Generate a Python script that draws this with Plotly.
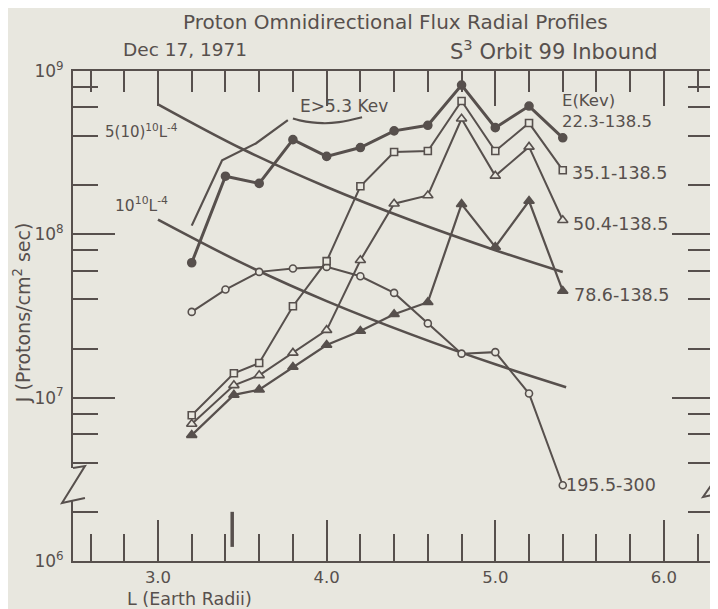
import plotly.graph_objects as go

# ---------------- data ----------------
L_a = [3.2, 3.4, 3.6, 3.8, 4.0, 4.2, 4.4, 4.6, 4.8, 5.0, 5.2, 5.4]
L_b = [3.2, 3.45, 3.6, 3.8, 4.0, 4.2, 4.4, 4.6, 4.8, 5.0, 5.2, 5.4]

J_22 = [6.7e7, 2.27e8, 2.05e8, 3.8e8, 3.0e8, 3.4e8, 4.3e8, 4.65e8, 8.2e8, 4.5e8, 6.1e8, 3.9e8]
J_35 = [7.8e6, 1.41e7, 1.63e7, 3.63e7, 6.85e7, 1.97e8, 3.19e8, 3.24e8, 6.55e8, 3.24e8, 4.8e8, 2.47e8]
J_50 = [6.9e6, 1.19e7, 1.37e7, 1.88e7, 2.59e7, 6.94e7, 1.54e8, 1.73e8, 5.1e8, 2.28e8, 3.43e8, 1.22e8]
J_78 = [5.9e6, 1.04e7, 1.12e7, 1.54e7, 2.1e7, 2.56e7, 3.24e7, 3.84e7, 1.53e8, 8.37e7, 1.6e8, 4.5e7]
J_195 = [3.35e7, 4.59e7, 5.89e7, 6.18e7, 6.32e7, 5.54e7, 4.38e7, 2.85e7, 1.86e7, 1.90e7, 1.06e7, 2.91e6]

# E > 5.3 keV profile and its label brace
L_e53 = [3.2, 3.38, 3.58, 3.77]
J_e53 = [1.13e8, 2.84e8, 3.6e8, 5.0e8]
L_brace = [3.80, 3.84, 3.975, 4.074, 4.21]
J_brace = [5.12e8, 4.99e8, 4.79e8, 4.86e8, 5.21e8]

# reference curves 5(10)^10 L^-4 and 10^10 L^-4
L_ref5 = [3.0, 3.5, 4.0, 4.5, 5.0, 5.4]
J_ref5 = [6.25e8, 3.33e8, 1.95e8, 1.22e8, 8.0e7, 5.88e7]
L_ref1 = [3.0, 3.5, 4.0, 4.5, 5.0, 5.42]
J_ref1 = [1.23e8, 6.66e7, 3.9e7, 2.44e7, 1.6e7, 1.16e7]

# short thick marker near the bottom axis
L_bar = [3.44, 3.44]
J_bar = [2.0e6, 1.22e6]

x_major = [3, 4, 5, 6]
x_major_text = ["3.0", "4.0", "5.0", "6.0"]
x_minor = [2.6, 2.8, 3.2, 3.4, 3.6, 3.8, 4.2, 4.4, 4.6, 4.8, 5.2, 5.4, 5.6, 5.8, 6.2]
y_major = [1e6, 1e7, 1e8, 1e9]
y_major_text = ["10<sup>6</sup>", "10<sup>7</sup>", "10<sup>8</sup>", "10<sup>9</sup>"]
y_minor = [m * 10 ** e for e in (6, 7, 8) for m in (2, 4, 6, 8)]

series_labels = ["22.3-138.5", "35.1-138.5", "50.4-138.5", "78.6-138.5", "195.5-300"]

# ---------------- style ----------------
INK = "#57504d"
BG = "#e8e7df"
FONT = "DejaVu Sans"
OFF = 8                      # page body margin of the html page
W, H = 718 - OFF, 609 - OFF
ML, MR, MT, MB = 65, 5, 63, 48
PW, PH = W - ML - MR, H - MT - MB

def px(x):                    # page pixel -> paper fraction
    return (x - OFF - ML) / PW

def py(y):
    return (H - MB - (y - OFF)) / PH

fig = go.Figure()

# reference curves
for Lr, Jr in ((L_ref5, J_ref5), (L_ref1, J_ref1)):
    fig.add_trace(go.Scatter(x=Lr, y=Jr, mode="lines", line=dict(color=INK, width=2.6, shape="spline"),
                             hoverinfo="skip", showlegend=False))

# E>5.3 keV line and brace
fig.add_trace(go.Scatter(x=L_e53, y=J_e53, mode="lines", line=dict(color=INK, width=2.2),
                         showlegend=False))
fig.add_trace(go.Scatter(x=L_brace, y=J_brace, mode="lines", line=dict(color=INK, width=2.2, shape="spline"),
                         showlegend=False))

def series(x, y, symbol, size, filled, width, name):
    fig.add_trace(go.Scatter(
        x=x, y=y, mode="lines+markers", name=name, showlegend=False,
        line=dict(color=INK, width=width),
        marker=dict(symbol=symbol, size=size, color=INK if filled else BG,
                    line=dict(color=INK, width=1.6))))

series(L_a, J_195, "circle", 7, False, 2.0, series_labels[4])
series(L_b, J_78, "triangle-up", 9, True, 2.2, series_labels[3])
series(L_b, J_50, "triangle-up", 9, False, 2.0, series_labels[2])
series(L_b, J_35, "square", 7, False, 2.0, series_labels[1])
series(L_a, J_22, "circle", 8, True, 3.0, series_labels[0])

# thick marker (on the mirrored axes so they are drawn)
fig.add_trace(go.Scatter(x=L_bar, y=J_bar, mode="lines", line=dict(color=INK, width=3.5),
                         xaxis="x2", yaxis="y2", showlegend=False, hoverinfo="skip"))

xr = [2.496, 6.279]
tick_common = dict(ticks="inside", tickcolor=INK, tickwidth=1.5, showgrid=False, zeroline=False)

fig.update_layout(
    width=W, height=H,
    margin=dict(l=ML, r=MR, t=MT, b=MB),
    paper_bgcolor=BG, plot_bgcolor=BG,
    font=dict(family=FONT, color=INK, size=17),
    xaxis=dict(range=xr, showline=True, linecolor=INK, linewidth=2, mirror=True,
               ticklen=41, tickvals=x_major, ticktext=x_major_text,
               tickfont=dict(size=16.5), ticklabelstandoff=0,
               minor=dict(ticks="inside", ticklen=27, tickvals=x_minor, tickcolor=INK, tickwidth=1.5),
               **tick_common),
    xaxis2=dict(range=xr, overlaying="x", side="top", anchor="y", showline=False,
                ticklen=35, tickvals=x_major, showticklabels=False,
                minor=dict(ticks="inside", ticklen=21, tickvals=x_minor, tickcolor=INK, tickwidth=1.5),
                **tick_common),
    yaxis=dict(type="log", range=[6, 9], showline=True, linecolor=INK, linewidth=2, mirror=True,
               ticklen=42, tickvals=y_major, ticktext=y_major_text, tickfont=dict(size=17),
               ticklabelstandoff=4,
               minor=dict(ticks="inside", ticklen=25, tickvals=y_minor, tickcolor=INK, tickwidth=1.5),
               **tick_common),
    yaxis2=dict(type="log", range=[6, 9], overlaying="y", side="right", anchor="x", showline=False,
                ticklen=39, tickvals=y_major, showticklabels=False,
                minor=dict(ticks="inside", ticklen=23, tickvals=y_minor, tickcolor=INK, tickwidth=1.5),
                **tick_common),
)

def note(text, x, y, size=17, xanchor="left", angle=0):
    fig.add_annotation(text=text, x=px(x), y=py(y), xref="paper", yref="paper",
                       xanchor=xanchor, yanchor="middle", showarrow=False, textangle=angle,
                       align="left", font=dict(family=FONT, color=INK, size=size))

# titles
note("Proton Omnidirectional Flux Radial Profiles", 397, 22, 20, "center")
note("Dec 17, 1971", 185, 50, 18.5, "center")
note("S<sup>3</sup> Orbit 99 Inbound", 556, 50, 21, "center")
note("L (Earth Radii)", 190, 599, 17.5, "center")
note("J (Protons/cm<sup>2</sup> sec)", 22, 313, 19, "center", -90)

# curve labels
note("5(10)<sup>10</sup>L<sup>-4</sup>", 103, 131, 15)
note("10<sup>10</sup>L<sup>-4</sup>", 113, 204, 15.5)
note("E>5.3 Kev", 345, 106, 17, "center")
note("E(Kev)<br>" + series_labels[0], 562, 111, 16.5)
note(series_labels[1], 572, 173, 17.5)
note(series_labels[2], 573, 224, 17.5)
note(series_labels[3], 574, 295, 17.5)
note(series_labels[4], 566, 485, 17.5)

# axis-break marks
def path(points):
    return "M " + " L ".join(f"{px(a):.5f},{py(b):.5f}" for a, b in points)

for (x0, y0, x1, y1) in ((70.5, 468, 75.5, 501), (710.5, 480, 715.5, 495)):
    fig.add_shape(type="rect", xref="paper", yref="paper", x0=px(x0), x1=px(x1), y0=py(y0), y1=py(y1),
                  fillcolor=BG, line=dict(width=0), layer="above")
fig.add_shape(type="path", xref="paper", yref="paper", layer="above",
              path=path([(73, 468), (85, 466), (62, 503), (85, 498)]),
              line=dict(color=INK, width=2))
fig.add_shape(type="path", xref="paper", yref="paper", layer="above",
              path=path([(713, 480), (719, 477), (705, 497), (719, 494)]),
              line=dict(color=INK, width=2))

fig.write_html("out.html")
